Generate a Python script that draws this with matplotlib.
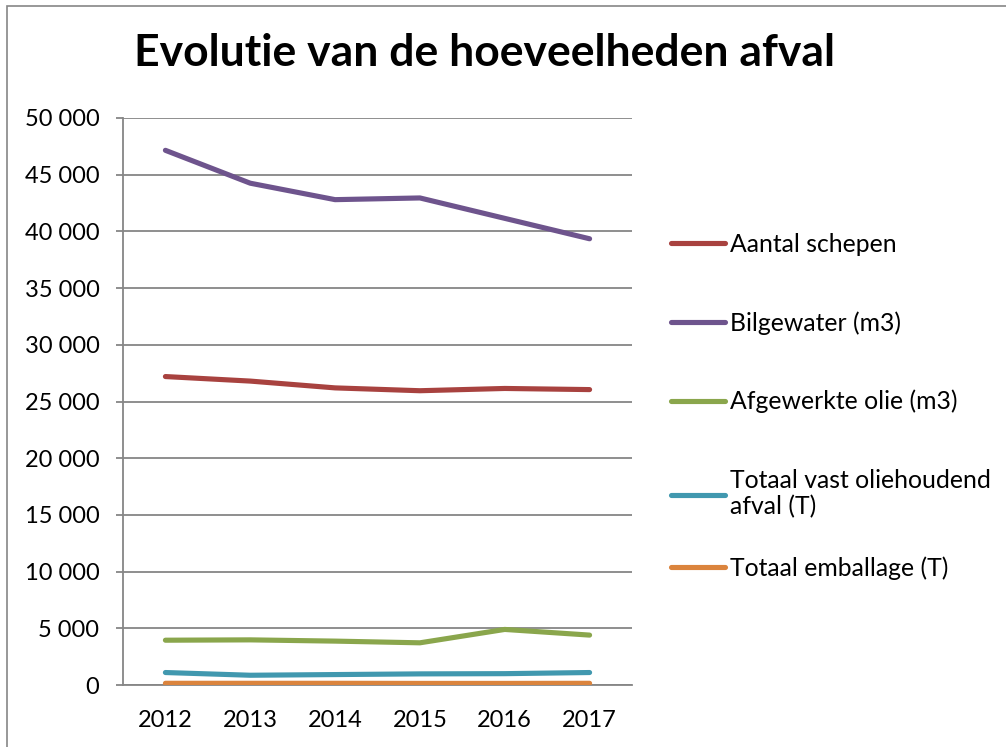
import matplotlib.pyplot as plt
from matplotlib.ticker import FuncFormatter
from matplotlib.patches import Rectangle

years = ['2012', '2013', '2014', '2015', '2016', '2017']

aantal_schepen = [27200, 26800, 26200, 25950, 26150, 26050]
bilgewater = [47150, 44250, 42800, 42950, 41150, 39350]
afgewerkte_olie = [3950, 3980, 3870, 3720, 4900, 4400]
vast_afval = [1100, 860, 920, 980, 1000, 1100]
emballage = [150, 150, 150, 140, 140, 150]

labels = ['Aantal schepen', 'Bilgewater (m3)', 'Afgewerkte olie (m3)',
          'Totaal vast oliehoudend\nafval (T)', 'Totaal emballage (T)']
colors = ['#A8423F', '#6E548D', '#8AA64C', '#4198AF', '#DB843D']

plt.rcParams['font.family'] = ['Lato', 'DejaVu Sans']

fig = plt.figure(figsize=(10.06, 7.47), dpi=100)
fig.patches.append(Rectangle((7 / 1006, -0.1), 1.2, 1.1 - 6 / 747,
                             transform=fig.transFigure, fill=False,
                             edgecolor='#868686', lw=1.2))
ax = fig.add_axes([123 / 1006, 62 / 747, 509 / 1006, 567 / 747])

series = [aantal_schepen, bilgewater, afgewerkte_olie, vast_afval, emballage]
x = range(len(years))
lines = []
for vals, lab, c in zip(series, labels, colors):
    ln, = ax.plot(x, vals, color=c, lw=3.7, solid_capstyle='round',
                  solid_joinstyle='round', label=lab, zorder=3)
    lines.append(ln)

ax.set_xlim(-0.5, 5.5)
ax.set_ylim(0, 50000)
ax.set_yticks(range(0, 50001, 5000))
ax.yaxis.set_major_formatter(FuncFormatter(lambda v, p: f'{int(v):,}'.replace(',', ' ')))
ax.set_xticks(list(x))
ax.set_xticklabels(years)
ax.grid(axis='y', color='#868686', lw=1.3)
ax.set_axisbelow(True)
for s in ['top', 'right']:
    ax.spines[s].set_visible(False)
for s in ['left', 'bottom']:
    ax.spines[s].set_color('#868686')
    ax.spines[s].set_linewidth(1.3)
ax.tick_params(axis='y', length=5, color='#868686', width=1.3, labelsize=17, pad=12)
ax.tick_params(axis='x', length=0, labelsize=17, pad=18)

fig.text(0.482, 0.912, 'Evolutie van de hoeveelheden afval', ha='center', va='baseline',
         fontsize=32, fontweight='bold')

# legend in two parts so the last entry keeps the reference spacing
leg_kw = dict(bbox_transform=fig.transFigure, frameon=False, fontsize=17.8,
              handlelength=2.2, handletextpad=0.2, labelspacing=2.23,
              borderpad=0, borderaxespad=0)
leg1 = ax.legend(lines[:4], labels[:4], loc='upper left',
                 bbox_to_anchor=(671 / 1006, 1 - 233 / 747), **leg_kw)
ax.add_artist(leg1)
ax.legend(lines[4:], labels[4:], loc='upper left',
          bbox_to_anchor=(671 / 1006, 1 - 556 / 747), **leg_kw)

fig.savefig('out.png', dpi=100)
